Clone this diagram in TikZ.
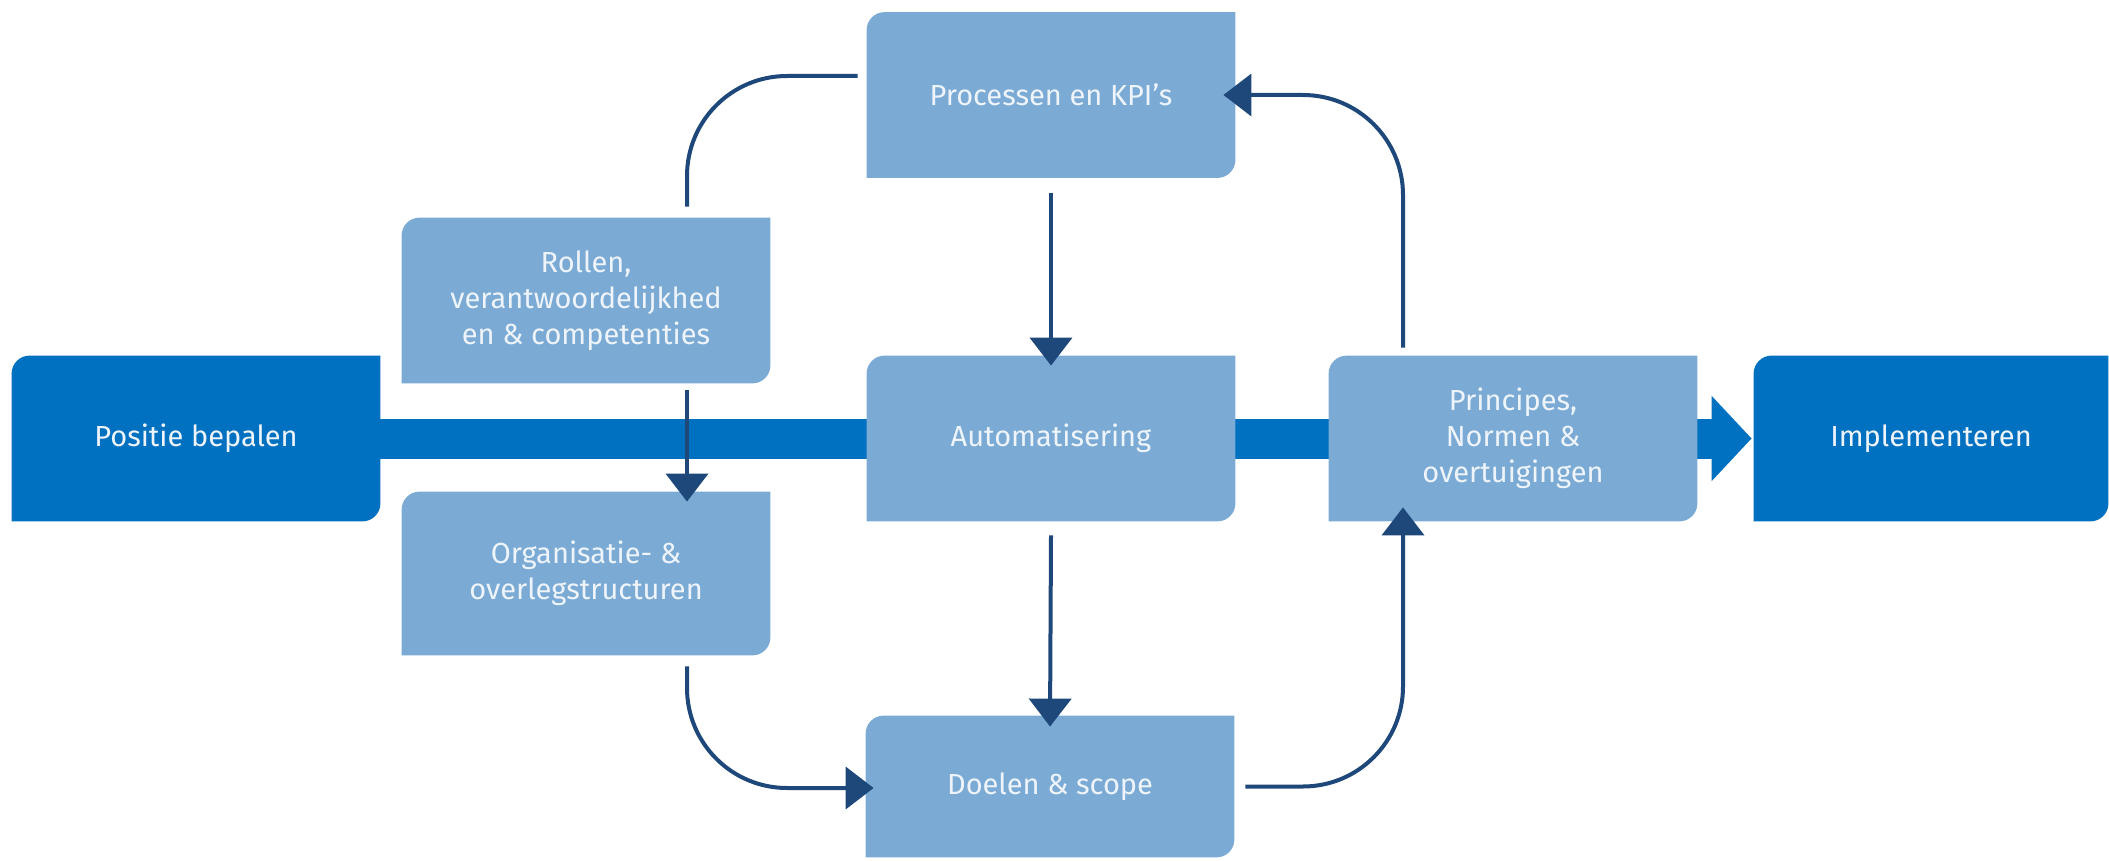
\documentclass[tikz,border=0pt]{standalone}
\usepackage{fontspec}
\setmainfont{Fira Sans}
\usetikzlibrary{arrows.meta,calc,backgrounds}

\definecolor{darkblue}{RGB}{0,112,192}
\definecolor{lightblue}{RGB}{123,171,213}
\definecolor{navy}{RGB}{30,72,122}
\definecolor{paletext}{RGB}{238,244,250}

\begin{document}
\begin{tikzpicture}[x=0.5pt, y=-0.5pt,
    tile/.style={minimum width=184pt, minimum height=82.5pt, inner sep=0pt,
        align=center, text=paletext, font=\fontsize{14.5}{18}\selectfont},
    link/.style={navy, line width=2pt, rounded corners=50pt},
    head/.style={-{Triangle[width=21pt,length=14pt]}}]
    \useasboundingbox (0,0) rectangle (2109,861);

    \node[tile] (pos) at (196,438.5) {Positie bepalen};
    \node[tile, minimum width=177pt] (impl) at (1931,438.5) {Implementeren};
    \node[tile] (rol) at (586,300.5) {Rollen,\\verantwoordelijkhed\\en \& competenties};
    \node[tile, minimum height=81.5pt] (org) at (586,573.5) {Organisatie- \&\\overlegstructuren};
    \node[tile] (proc) at (1051,95) {Processen en KPI’s};
    \node[tile] (auto) at (1051,438.5) {Automatisering};
    \node[tile] (prin) at (1513,438.5) {Principes,\\Normen \&\\overtuigingen};
    \node[tile, minimum height=70.5pt] (doel) at (1050,786.5) {Doelen \& scope};

    \begin{scope}[on background layer]
        % main line
        \draw[darkblue, line width=20pt, -{Triangle[width=41.5pt,length=20pt]}]
            (pos.east) -- ($(impl.west)+(-2,0)$);
        % boxes: round top left and bottom right
        \foreach \n/\c in {pos/darkblue, impl/darkblue, rol/lightblue, org/lightblue,
                proc/lightblue, auto/lightblue, prin/lightblue, doel/lightblue}
            \fill[\c] (\n.north east) [rounded corners=9pt] -- (\n.south east)
                [sharp corners] -- (\n.south west) [rounded corners=9pt] -- (\n.north west)
                [sharp corners] -- cycle;
    \end{scope}

    \draw[link] ($(rol.north)+(101,-11)$) |- ($(proc.west)+(-9,-19)$);
    \draw[link, head] ($(prin.north)+(-110,-8)$) |- ($(proc.east)+(-12,0)$);
    \draw[link, head] ($(proc.south)+(0,15)$) -- ($(auto.north)+(0,10)$);
    \draw[link, head] ($(rol.south)+(101,7)$) -- ($(org.north)+(101,10)$);
    \draw[link, head] ($(auto.south)+(0,14)$) -- ($(doel.north)+(0,11)$);
    \draw[link, head] ($(org.south)+(101,11)$) |- ($(doel.west)+(8,1.5)$);
    \draw[link, head] ($(doel.east)+(11,0)$) -| ($(prin.south)+(-110,-14)$);
\end{tikzpicture}
\end{document}
